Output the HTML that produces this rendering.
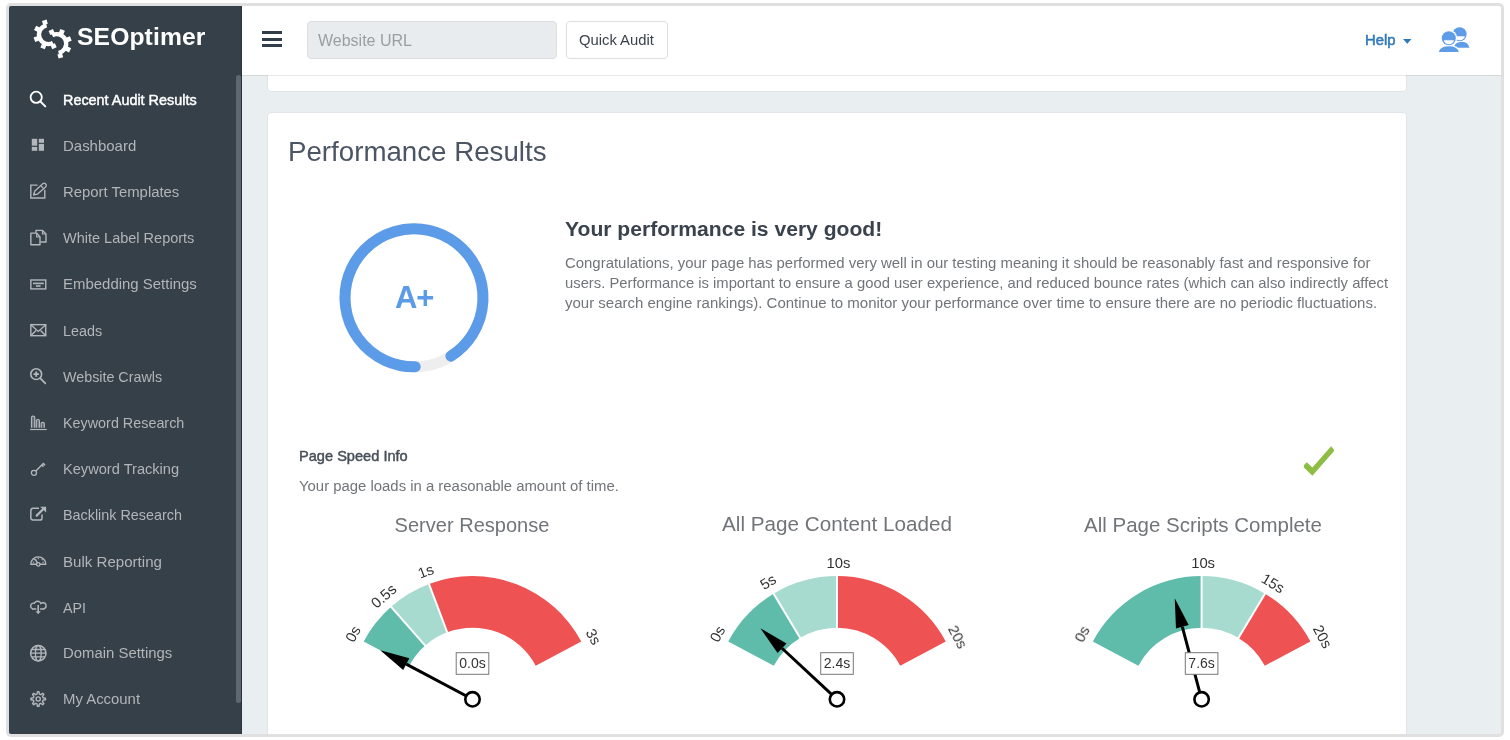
<!DOCTYPE html>
<html><head><meta charset="utf-8"><title>SEOptimer - Performance Results</title>
<style>
html,body{margin:0;padding:0;}
body{width:1510px;height:740px;overflow:hidden;position:relative;background:#fff;-webkit-font-smoothing:antialiased;font-family:"Liberation Sans",Arial,sans-serif;}
.abs{position:absolute;will-change:transform;}
.t{position:absolute;white-space:nowrap;will-change:transform;}
.ic{position:absolute;overflow:visible;will-change:transform;}
.gl{font-family:"Liberation Sans",Arial,sans-serif;font-size:14.8px;fill:#333;}
.gv{font-family:"Liberation Sans",Arial,sans-serif;font-size:14px;fill:#333;}
#frame{position:absolute;left:6px;top:3px;width:1492px;height:728px;border:3px solid #e0e0e0;border-radius:5px;box-shadow:0 0 0 40px #fff;z-index:100;}
#side{position:absolute;left:9px;top:6px;width:232px;height:728px;background:#354049;}
#sline{position:absolute;left:241px;top:6px;width:1px;height:728px;background:#2b333d;}
#sbar{position:absolute;left:236px;top:75px;width:5px;height:628px;background:#5f6872;border-radius:3px;}
#head{position:absolute;left:242px;top:6px;width:1259px;height:69px;background:#fff;box-shadow:0 1px 0 rgba(0,0,0,0.09);}
#main{position:absolute;left:242px;top:60px;width:1259px;height:674px;background:#e9eef1;}
.card{position:absolute;background:#fff;border:1px solid #e1e5e9;border-radius:4px;}
</style></head><body>
<div id="frame"></div>
<div id="side"></div>
<div id="sline"></div>
<div id="sbar"></div>
<div id="main"></div>
<div class="card" style="left:267px;top:40px;width:1138px;height:50px;"></div>
<div id="head"></div>
<div class="card" style="left:267px;top:112px;width:1138px;height:700px;"></div>
<svg class="abs" style="left:32px;top:18px" width="42" height="42" viewBox="0 0 42 42">
<g transform="translate(16.4 16.6)"><path d="M4.56 8.22 A9.4 9.4 0 1 1 -1.79 -9.23" fill="none" stroke="#fff" stroke-width="4.3"/><rect x="10.6" y="-2.4" width="4.3" height="4.8" fill="#fff" transform="rotate(66)"/><rect x="10.6" y="-2.4" width="4.3" height="4.8" fill="#fff" transform="rotate(113)"/><rect x="10.6" y="-2.4" width="4.3" height="4.8" fill="#fff" transform="rotate(160)"/><rect x="10.6" y="-2.4" width="4.3" height="4.8" fill="#fff" transform="rotate(207)"/><rect x="10.6" y="-2.4" width="4.3" height="4.8" fill="#fff" transform="rotate(254)"/></g>
<g transform="rotate(180 20.6 21.1)"><g transform="translate(16.4 16.6)"><path d="M4.56 8.22 A9.4 9.4 0 1 1 -1.79 -9.23" fill="none" stroke="#fff" stroke-width="4.3"/><rect x="10.6" y="-2.4" width="4.3" height="4.8" fill="#fff" transform="rotate(66)"/><rect x="10.6" y="-2.4" width="4.3" height="4.8" fill="#fff" transform="rotate(113)"/><rect x="10.6" y="-2.4" width="4.3" height="4.8" fill="#fff" transform="rotate(160)"/><rect x="10.6" y="-2.4" width="4.3" height="4.8" fill="#fff" transform="rotate(207)"/><rect x="10.6" y="-2.4" width="4.3" height="4.8" fill="#fff" transform="rotate(254)"/></g></g>
</svg>
<div class="t" style="left:77.3px;top:25.49px;font-size:24.7px;line-height:24.7px;color:#fff;font-weight:bold;letter-spacing:0.1px">SEOptimer</div>
<div class="t" style="top:92.81px;font-size:14.4px;line-height:14.4px;color:#ffffff;font-weight:normal;left:63.20px;-webkit-text-stroke:0.45px #fff;">Recent Audit Results</div>
<svg class="ic" style="left:30px;top:92.00px" width="16" height="16" viewBox="0 0 16 16" fill="none" stroke="#ffffff" stroke-width="1.4"><circle cx="6.2" cy="5.3" r="5.6" stroke-width="1.8"/><path d="M10.4 9.5 L15.3 14.4" stroke-width="1.9" stroke-linecap="round"/></svg>
<div class="t" style="top:138.47px;font-size:14.98px;line-height:14.98px;color:#b3b5b8;font-weight:normal;left:63.20px;">Dashboard</div>
<svg class="ic" style="left:30px;top:138.15px" width="16" height="16" viewBox="0 0 16 16" fill="none" stroke="#b3b7bc" stroke-width="1.4"><g fill="#b3b7bc" stroke="none"><rect x="1.8" y="0.8" width="5.4" height="6.9"/><rect x="8.8" y="0.8" width="5.2" height="4"/><rect x="8.8" y="5.9" width="5.2" height="6.9"/><rect x="1.8" y="8.9" width="5.4" height="3.9"/></g></svg>
<div class="t" style="top:184.70px;font-size:14.88px;line-height:14.88px;color:#b3b5b8;font-weight:normal;left:63.20px;">Report Templates</div>
<svg class="ic" style="left:30px;top:184.30px" width="16" height="16" viewBox="0 0 16 16" fill="none" stroke="#b3b7bc" stroke-width="1.4"><path d="M7.6 1.1 H0.8 V14 H14.8 V5.8"/><g transform="translate(3.6 10.9) rotate(-42)"><path d="M0 0 L3.6 -2.1 H14.2 A1.6 1.6 0 0 1 14.2 2.1 H3.6 Z" stroke-width="1.3" stroke-linejoin="round"/><path d="M11.6 -2.1 V2.1" stroke-width="1.2"/><path d="M0 0 L1.6 -0.9 V0.9 Z" fill="#b3b7bc" stroke-width="0.8"/></g></svg>
<div class="t" style="top:231.17px;font-size:14.51px;line-height:14.51px;color:#b3b5b8;font-weight:normal;left:63.20px;">White Label Reports</div>
<svg class="ic" style="left:30px;top:230.45px" width="16" height="16" viewBox="0 0 16 16" fill="none" stroke="#b3b7bc" stroke-width="1.4"><path d="M6 3.1 H0.85 V14.7 H10 V7 L6.7 3.1" stroke-linejoin="round"/><path d="M6.7 3.1 V7 H10" stroke-width="1.2"/><path d="M6 3 V0.4 H12.5 L16 4 V12 H10.6" stroke-linejoin="round"/><path d="M12.5 0.4 V4 H16" stroke-width="1.2"/></svg>
<div class="t" style="top:276.94px;font-size:14.96px;line-height:14.96px;color:#b3b5b8;font-weight:normal;left:63.20px;">Embedding Settings</div>
<svg class="ic" style="left:30px;top:276.60px" width="16" height="16" viewBox="0 0 16 16" fill="none" stroke="#b3b7bc" stroke-width="1.4"><rect x="0.85" y="3" width="14.9" height="8.9"/><g fill="#b3b7bc" stroke="none"><rect x="3" y="5.6" width="10.8" height="1.6"/><rect x="5.9" y="8.2" width="4.7" height="1.6"/></g></svg>
<div class="t" style="top:323.57px;font-size:14.39px;line-height:14.39px;color:#b3b5b8;font-weight:normal;left:63.20px;">Leads</div>
<svg class="ic" style="left:30px;top:322.75px" width="16" height="16" viewBox="0 0 16 16" fill="none" stroke="#b3b7bc" stroke-width="1.4"><rect x="0.85" y="1.65" width="14.9" height="11.05"/><path d="M0.85 1.65 L8.3 8.4 L15.75 1.65 M0.85 12.7 L6 7.4 M15.75 12.7 L10.6 7.4"/></svg>
<div class="t" style="top:369.79px;font-size:14.31px;line-height:14.31px;color:#b3b5b8;font-weight:normal;left:63.20px;">Website Crawls</div>
<svg class="ic" style="left:30px;top:368.90px" width="16" height="16" viewBox="0 0 16 16" fill="none" stroke="#b3b7bc" stroke-width="1.4"><circle cx="6.2" cy="5.15" r="5.4" stroke-width="1.6"/><path d="M10.4 9.4 L15.3 14.3" stroke-width="1.8" stroke-linecap="round"/><path d="M3.5 5.15 H8.9 M6.2 2.45 V7.85" stroke-width="1.9"/></svg>
<div class="t" style="top:415.89px;font-size:14.36px;line-height:14.36px;color:#b3b5b8;font-weight:normal;left:63.20px;">Keyword Research</div>
<svg class="ic" style="left:30px;top:415.05px" width="16" height="16" viewBox="0 0 16 16" fill="none" stroke="#b3b7bc" stroke-width="1.4"><path d="M0 14.5 H16.8" stroke-width="1.2"/><g stroke-width="1.2" fill="rgba(179,183,188,0.35)"><path d="M1.5 12.8 V2.5 A1.3 1.3 0 0 1 2.8 1.2 H3.4 A1.3 1.3 0 0 1 4.7 2.5 V12.8"/><path d="M6.3 12.8 V5.8 A1.3 1.3 0 0 1 7.6 4.5 H8.1 A1.3 1.3 0 0 1 9.4 5.8 V12.8"/><path d="M11.2 12.8 V8.6 A1.3 1.3 0 0 1 12.5 7.3 H13 A1.3 1.3 0 0 1 14.3 8.6 V12.8"/></g></svg>
<div class="t" style="top:461.83px;font-size:14.61px;line-height:14.61px;color:#b3b5b8;font-weight:normal;left:63.20px;">Keyword Tracking</div>
<svg class="ic" style="left:30px;top:461.20px" width="16" height="16" viewBox="0 0 16 16" fill="none" stroke="#b3b7bc" stroke-width="1.4"><circle cx="3.95" cy="11.85" r="2.55" stroke-width="1.3"/><path d="M5.8 10 L13.8 2" stroke-width="1.4"/><path d="M11.8 4 L13.6 5.6 M13.4 2.6 L15.1 4.2" stroke-width="1.5"/></svg>
<div class="t" style="top:508.19px;font-size:14.37px;line-height:14.37px;color:#b3b5b8;font-weight:normal;left:63.20px;">Backlink Research</div>
<svg class="ic" style="left:30px;top:507.35px" width="16" height="16" viewBox="0 0 16 16" fill="none" stroke="#b3b7bc" stroke-width="1.4"><path d="M9 1.3 H3 A2.1 2.1 0 0 0 0.85 3.4 V10.9 A2.1 2.1 0 0 0 3 13 H9.9 A2.1 2.1 0 0 0 12 10.9 V7.6" stroke-width="1.5"/><path d="M6.7 8.6 L13.6 1.7" stroke-width="2.2" stroke-linecap="round"/><path d="M10.2 -0.2 H16.1 V5.6 Z" fill="#b3b7bc" stroke="none"/></svg>
<div class="t" style="top:553.73px;font-size:15.09px;line-height:15.09px;color:#b3b5b8;font-weight:normal;left:63.20px;">Bulk Reporting</div>
<svg class="ic" style="left:30px;top:553.50px" width="16" height="16" viewBox="0 0 16 16" fill="none" stroke="#b3b7bc" stroke-width="1.4"><path d="M0.8 10.2 A7.5 7.3 0 0 1 15.8 10.2 Z" stroke-linejoin="round"/><path d="M5.3 5.1 L8.2 10.3" stroke-width="1.4"/><circle cx="8.3" cy="10.4" r="1.7" fill="#354049" stroke-width="1.3"/><path d="M8.3 3.5 V5.2 M4 5.1 L4.9 6 M12.6 5.1 L11.7 6 M2.8 8.2 H4.2 M13.8 8.2 H12.4" stroke-width="1.1"/></svg>
<div class="t" style="top:600.60px;font-size:14.24px;line-height:14.24px;color:#b3b5b8;font-weight:normal;left:63.20px;">API</div>
<svg class="ic" style="left:30px;top:599.65px" width="16" height="16" viewBox="0 0 16 16" fill="none" stroke="#b3b7bc" stroke-width="1.4"><g stroke="#b3b7bc" stroke-width="2.8"><circle cx="3.5" cy="6.0" r="2.2"/><circle cx="7.6" cy="4.7" r="2.75"/><circle cx="13.0" cy="5.8" r="2.4"/><rect x="3.5" y="4.5" width="9.5" height="3.75"/></g><g fill="#354049" stroke="none"><circle cx="3.5" cy="6.0" r="2.2"/><circle cx="7.6" cy="4.7" r="2.75"/><circle cx="13.0" cy="5.8" r="2.4"/><rect x="3.5" y="4.5" width="9.5" height="3.75"/></g><path d="M8.2 5 V11.8" stroke="#354049" stroke-width="3.6"/><path d="M8.2 4.9 V11.8" stroke-width="1.6"/><path d="M5.6 11.3 H10.8 L8.2 14.3 Z" fill="#b3b7bc" stroke="none"/></svg>
<div class="t" style="top:646.19px;font-size:14.9px;line-height:14.9px;color:#b3b5b8;font-weight:normal;left:63.20px;">Domain Settings</div>
<svg class="ic" style="left:30px;top:645.80px" width="16" height="16" viewBox="0 0 16 16" fill="none" stroke="#b3b7bc" stroke-width="1.4"><circle cx="8.3" cy="7.2" r="7.7" stroke-width="1.5"/><ellipse cx="8.3" cy="7.2" rx="2.9" ry="7.7" stroke-width="1.3"/><path d="M1.4 3.5 H15.2 M0.6 7.2 H16 M1.4 10.9 H15.2" stroke-width="1.3"/></svg>
<div class="t" style="top:692.33px;font-size:14.91px;line-height:14.91px;color:#b3b5b8;font-weight:normal;left:63.20px;">My Account</div>
<svg class="ic" style="left:30px;top:691.95px" width="16" height="16" viewBox="0 0 16 16" fill="none" stroke="#b3b7bc" stroke-width="1.4"><path d="M7.44 -0.26 L8.96 -0.26 L9.45 2.16 L10.74 2.69 L12.79 1.33 L13.87 2.41 L12.51 4.46 L13.04 5.75 L15.46 6.24 L15.46 7.76 L13.04 8.25 L12.51 9.54 L13.87 11.59 L12.79 12.67 L10.74 11.31 L9.45 11.84 L8.96 14.26 L7.44 14.26 L6.95 11.84 L5.66 11.31 L3.61 12.67 L2.53 11.59 L3.89 9.54 L3.36 8.25 L0.94 7.76 L0.94 6.24 L3.36 5.75 L3.89 4.46 L2.53 2.41 L3.61 1.33 L5.66 2.69 L6.95 2.16 Z" stroke-width="1.4" stroke-linejoin="round"/><circle cx="8.2" cy="7" r="2.1" stroke-width="1.4"/></svg>
<div class="abs" style="left:262px;top:31px;width:20px;height:3px;background:#343e4a"></div>
<div class="abs" style="left:262px;top:37.5px;width:20px;height:3px;background:#343e4a"></div>
<div class="abs" style="left:262px;top:44px;width:20px;height:3px;background:#343e4a"></div>
<div class="abs" style="left:307px;top:21px;width:248px;height:36px;background:#e9ecef;border:1px solid #dcdee0;border-radius:4px"></div>
<div class="t" style="top:32.86px;font-size:16px;line-height:16px;color:#9a9ea3;font-weight:normal;left:318.00px;">Website URL</div>
<div class="abs" style="left:566px;top:21px;width:100px;height:36px;background:#fff;border:1px solid #dcdee0;border-radius:4px"></div>
<div class="t" style="top:32.67px;font-size:14.8px;line-height:14.8px;color:#39424d;font-weight:normal;left:579.20px;">Quick Audit</div>
<div class="t" style="top:32.53px;font-size:14.85px;line-height:14.85px;color:#2e78b8;font-weight:normal;left:1365.40px;-webkit-text-stroke:0.5px #2e78b8;">Help</div>
<svg class="abs" style="left:1403px;top:38.5px" width="9" height="5" viewBox="0 0 9 5"><path d="M0 0 H8.5 L4.25 4.8 Z" fill="#2e78b8"/></svg>
<svg class="abs" style="left:1437px;top:25px" width="34" height="28" viewBox="1437 25 34 28">
<circle cx="1459.6" cy="34.3" r="7" fill="#5e9ce8"/>
<path d="M1453.5 47.8 Q1455 41.8 1462 41.8 Q1468 41.8 1469.5 47.8 Z" fill="#5e9ce8"/>
<path d="M1454.8 36.2 A5 4 0 0 0 1464.8 36.2 Z" fill="#fff"/>
<circle cx="1448.8" cy="38.3" r="8.4" fill="#fff"/>
<path d="M1437.3 53.5 Q1438.5 44.8 1448.8 44.8 Q1459 44.8 1460.5 53.5 Z" fill="#fff"/>
<circle cx="1448.8" cy="38.3" r="7" fill="#5e9ce8"/>
<path d="M1438.8 52 Q1440 46.2 1448.8 46.2 Q1457.5 46.2 1458.8 52 Z" fill="#5e9ce8"/>
<path d="M1443.9 40.2 A5 4 0 0 0 1453.9 40.2 Z" fill="#fff"/>
</svg>
<svg class="abs" style="left:0;top:0" width="1510" height="740" viewBox="0 0 1510 740"><circle cx="414" cy="297.8" r="69" fill="none" stroke="#eeeeee" stroke-width="11"/><path d="M415.20 366.79 A69 69 0 1 1 450.87 356.12" fill="none" stroke="#5b9be8" stroke-width="11" stroke-linecap="round"/><polygon points="1303.9,465.3 1306.7,462.2 1312.4,467.4 1331.1,446.2 1333.9,449.4 1333.9,451.2 1312.4,475.8 1303.9,467.6" fill="#8dbd43"/></svg>
<svg class="abs" style="left:0;top:0" width="1510" height="740" viewBox="0 0 1510 740"><path d="M363.72 641.46 A123.2 123.2 0 0 1 391.13 606.79 L425.21 645.54 A71.6 71.6 0 0 0 409.28 665.69 Z" fill="#5fbcaa"/>
<path d="M391.13 606.79 A123.2 123.2 0 0 1 429.02 584.03 L447.23 632.31 A71.6 71.6 0 0 0 425.21 645.54 Z" fill="#a8dbcf"/>
<path d="M429.02 584.03 A123.2 123.2 0 0 1 581.28 641.46 L535.72 665.69 A71.6 71.6 0 0 0 447.23 632.31 Z" fill="#ef5252"/>
<line x1="390.47" y1="606.04" x2="425.87" y2="646.29" stroke="#fff" stroke-width="2"/>
<line x1="428.67" y1="583.09" x2="447.58" y2="633.24" stroke="#fff" stroke-width="2"/>
<text x="353.04" y="634.08" transform="rotate(-62.00 353.04 634.08)" text-anchor="middle" dominant-baseline="central" class="gl">0s</text>
<text x="383.74" y="596.11" transform="rotate(-41.33 383.74 596.11)" text-anchor="middle" dominant-baseline="central" class="gl">0.5s</text>
<text x="425.87" y="571.43" transform="rotate(-20.67 425.87 571.43)" text-anchor="middle" dominant-baseline="central" class="gl">1s</text>
<text x="593.37" y="636.73" transform="rotate(62.00 593.37 636.73)" text-anchor="middle" dominant-baseline="central" class="gl">3s</text>
<line x1="472.5" y1="699.3" x2="406.28" y2="664.09" stroke="#000" stroke-width="3"/>
<path d="M380.23 650.24 L409.38 658.26 L403.18 669.92 Z" fill="#000"/>
<circle cx="472.5" cy="699.3" r="7.2" fill="#fff" stroke="#000" stroke-width="2.6"/>
<rect x="456.20" y="652.7" width="32.6" height="21.6" fill="#fff" stroke="#777" stroke-width="1"/>
<text x="472.50" y="668.4" text-anchor="middle" class="gv">0.0s</text>
<path d="M728.22 641.46 A123.2 123.2 0 0 1 773.55 593.70 L800.12 637.93 A71.6 71.6 0 0 0 773.78 665.69 Z" fill="#5fbcaa"/>
<path d="M773.55 593.70 A123.2 123.2 0 0 1 837.00 576.10 L837.00 627.70 A71.6 71.6 0 0 0 800.12 637.93 Z" fill="#a8dbcf"/>
<path d="M837.00 576.10 A123.2 123.2 0 0 1 945.78 641.46 L900.22 665.69 A71.6 71.6 0 0 0 837.00 627.70 Z" fill="#ef5252"/>
<line x1="773.03" y1="592.84" x2="800.64" y2="638.78" stroke="#fff" stroke-width="2"/>
<line x1="837.00" y1="575.10" x2="837.00" y2="628.70" stroke="#fff" stroke-width="2"/>
<text x="717.54" y="634.08" transform="rotate(-62.00 717.54 634.08)" text-anchor="middle" dominant-baseline="central" class="gl">0s</text>
<text x="768.19" y="581.87" transform="rotate(-31.00 768.19 581.87)" text-anchor="middle" dominant-baseline="central" class="gl">5s</text>
<text x="838.50" y="563.20" transform="rotate(0.00 838.50 563.20)" text-anchor="middle" dominant-baseline="central" class="gl">10s</text>
<text x="957.87" y="636.73" transform="rotate(62.00 957.87 636.73)" text-anchor="middle" dominant-baseline="central" class="gl">20s</text>
<line x1="837.0" y1="699.3" x2="782.04" y2="648.27" stroke="#000" stroke-width="3"/>
<path d="M760.42 628.19 L786.53 643.43 L777.55 653.10 Z" fill="#000"/>
<circle cx="837.0" cy="699.3" r="7.2" fill="#fff" stroke="#000" stroke-width="2.6"/>
<rect x="820.70" y="652.7" width="32.6" height="21.6" fill="#fff" stroke="#777" stroke-width="1"/>
<text x="837.00" y="668.4" text-anchor="middle" class="gv">2.4s</text>
<path d="M1092.82 641.46 A123.2 123.2 0 0 1 1201.60 576.10 L1201.60 627.70 A71.6 71.6 0 0 0 1138.38 665.69 Z" fill="#5fbcaa"/>
<path d="M1201.60 576.10 A123.2 123.2 0 0 1 1265.05 593.70 L1238.48 637.93 A71.6 71.6 0 0 0 1201.60 627.70 Z" fill="#a8dbcf"/>
<path d="M1265.05 593.70 A123.2 123.2 0 0 1 1310.38 641.46 L1264.82 665.69 A71.6 71.6 0 0 0 1238.48 637.93 Z" fill="#ef5252"/>
<line x1="1201.60" y1="575.10" x2="1201.60" y2="628.70" stroke="#fff" stroke-width="2"/>
<line x1="1265.57" y1="592.84" x2="1237.96" y2="638.78" stroke="#fff" stroke-width="2"/>
<text x="1082.14" y="634.08" transform="rotate(-62.00 1082.14 634.08)" text-anchor="middle" dominant-baseline="central" class="gl">0s</text>
<text x="1203.10" y="563.20" transform="rotate(0.00 1203.10 563.20)" text-anchor="middle" dominant-baseline="central" class="gl">10s</text>
<text x="1272.98" y="583.41" transform="rotate(31.00 1272.98 583.41)" text-anchor="middle" dominant-baseline="central" class="gl">15s</text>
<text x="1322.47" y="636.73" transform="rotate(62.00 1322.47 636.73)" text-anchor="middle" dominant-baseline="central" class="gl">20s</text>
<line x1="1201.6" y1="699.3" x2="1182.34" y2="626.82" stroke="#000" stroke-width="3"/>
<path d="M1174.76 598.30 L1188.72 625.12 L1175.96 628.51 Z" fill="#000"/>
<circle cx="1201.6" cy="699.3" r="7.2" fill="#fff" stroke="#000" stroke-width="2.6"/>
<rect x="1185.30" y="652.7" width="32.6" height="21.6" fill="#fff" stroke="#777" stroke-width="1"/>
<text x="1201.60" y="668.4" text-anchor="middle" class="gv">7.6s</text></svg>
<div class="t" style="top:137.95px;font-size:27.7px;line-height:27.7px;color:#4b5563;font-weight:normal;left:288.00px;">Performance Results</div>
<div class="t" style="top:281.66px;font-size:31px;line-height:31px;color:#5b9be8;font-weight:bold;left:114.40px;width:600px;text-align:center;letter-spacing:-1.2px;">A+</div>
<div class="t" style="top:217.64px;font-size:21.1px;line-height:21.1px;color:#39424d;font-weight:bold;left:565.00px;">Your performance is very good!</div>
<div class="t" style="top:255.56px;font-size:14.93px;line-height:14.93px;color:#717579;font-weight:normal;left:564.80px;">Congratulations, your page has performed very well in our testing meaning it should be reasonably fast and responsive for</div>
<div class="t" style="top:275.57px;font-size:14.8px;line-height:14.8px;color:#717579;font-weight:normal;left:564.80px;">users. Performance is important to ensure a good user experience, and reduced bounce rates (which can also indirectly affect</div>
<div class="t" style="top:295.31px;font-size:14.99px;line-height:14.99px;color:#717579;font-weight:normal;left:564.80px;">your search engine rankings). Continue to monitor your performance over time to ensure there are no periodic fluctuations.</div>
<div class="t" style="top:449.44px;font-size:14.6px;line-height:14.6px;color:#474f59;font-weight:normal;left:299.30px;-webkit-text-stroke:0.45px #474f59;">Page Speed Info</div>
<div class="t" style="top:478.89px;font-size:14.9px;line-height:14.9px;color:#717579;font-weight:normal;left:299.30px;">Your page loads in a reasonable amount of time.</div>
<div class="t" style="top:515.03px;font-size:20.05px;line-height:20.05px;color:#717579;font-weight:normal;left:171.50px;width:600px;text-align:center;">Server Response</div>
<div class="t" style="top:514.49px;font-size:20.68px;line-height:20.68px;color:#717579;font-weight:normal;left:537.00px;width:600px;text-align:center;">All Page Content Loaded</div>
<div class="t" style="top:514.66px;font-size:20.48px;line-height:20.48px;color:#717579;font-weight:normal;left:902.50px;width:600px;text-align:center;">All Page Scripts Complete</div>
</body></html>
